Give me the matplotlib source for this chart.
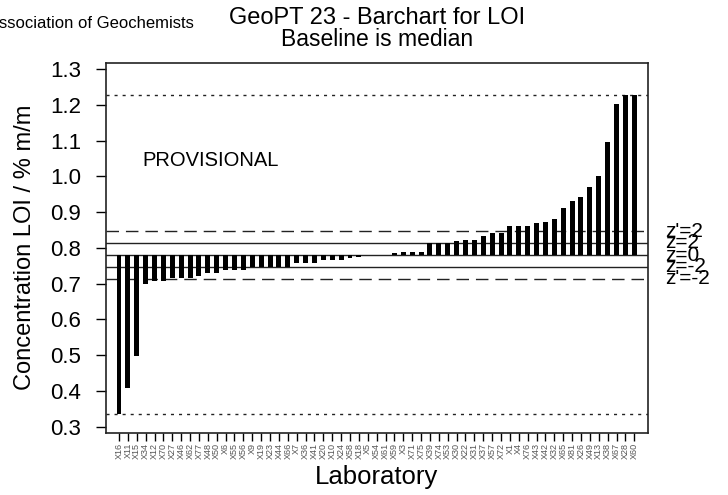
import numpy as np
import matplotlib
matplotlib.use('Agg')
import matplotlib.pyplot as plt
from matplotlib.transforms import blended_transform_factory

plt.rcParams['font.family'] = ['Liberation Sans', 'DejaVu Sans']

labs = ['X16', 'X11', 'X15', 'X34', 'X12', 'X70', 'X27', 'X46', 'X62', 'X77',
        'X48', 'X50', 'X6', 'X55', 'X56', 'X9', 'X19', 'X23', 'X44', 'X66',
        'X7', 'X36', 'X41', 'X20', 'X10', 'X24', 'X58', 'X18', 'X5', 'X54',
        'X61', 'X59', 'X3', 'X71', 'X75', 'X39', 'X74', 'X53', 'X30', 'X22',
        'X31', 'X37', 'X57', 'X72', 'X1', 'X4', 'X76', 'X43', 'X42', 'X32',
        'X65', 'X81', 'X26', 'X49', 'X13', 'X38', 'X67', 'X28', 'X60']

loi = [0.335, 0.409, 0.499, 0.699, 0.707, 0.707, 0.717, 0.717, 0.716, 0.720,
       0.730, 0.730, 0.739, 0.739, 0.739, 0.747, 0.747, 0.747, 0.747, 0.747,
       0.758, 0.758, 0.758, 0.766, 0.766, 0.766, 0.772, 0.775, 0.780, 0.780,
       0.780, 0.787, 0.789, 0.789, 0.789, 0.814, 0.814, 0.814, 0.818, 0.822,
       0.822, 0.832, 0.842, 0.842, 0.862, 0.862, 0.862, 0.869, 0.871, 0.881,
       0.911, 0.930, 0.941, 0.971, 1.001, 1.096, 1.202, 1.227, 1.227]

median = 0.780
z_levels = [0.846, 0.814, 0.780, 0.747, 0.714]
z_labels = ["z'=2", "z=2", "z=0", "z=-2", "z'=-2"]
z_styles = ['dashed', 'solid', 'solid', 'solid', 'dashed']
range_levels = [1.227, 0.335]

yticks = [0.3, 0.4, 0.5, 0.6, 0.7, 0.8, 0.9, 1.0, 1.1, 1.2, 1.3]

W, H = 728, 495
fig = plt.figure(figsize=(W / 100, H / 100), dpi=100)
ax = fig.add_axes([106 / W, 1 - 432.7 / H, (647.7 - 106) / W, (432.7 - 62.7) / H])

x = np.arange(len(loi))
vals = np.array(loi)
ax.bar(x, vals - median, bottom=median, width=0.56, color='black', zorder=3)

for lev, st in zip(z_levels, z_styles):
    ls = (0, (9, 5)) if st == 'dashed' else '-'
    ax.axhline(lev, color='#222222', lw=1.0, linestyle=ls, zorder=2)
for lev in range_levels:
    ax.axhline(lev, color='#222222', lw=1.0, linestyle=(0, (2.2, 3.6)), zorder=2)

ax.set_xlim(-1.463, 59.51)
ax.set_ylim(0.2833, 1.3176)

ax.set_yticks(yticks)
ax.set_yticklabels([f'{t:.1f}' for t in yticks], fontsize=16)
ax.tick_params(axis='y', length=7, width=1, pad=11)

ax.set_xticks(x)
ax.set_xticklabels(labs, rotation=90, fontsize=6.5, color='#555555')
ax.tick_params(axis='x', length=5.8, width=1, pad=1.5)

for sp in ax.spines.values():
    sp.set_linewidth(1.2)
    sp.set_color('#222222')

ax.text(0.068, 0.735, 'PROVISIONAL', transform=ax.transAxes, fontsize=14.5,
        ha='left', va='center')

side = blended_transform_factory(fig.transFigure, ax.transData)
for lev, lab in zip(z_levels, z_labels):
    ax.text(665 / W, lev, lab, transform=side, fontsize=15,
            ha='left', va='center')

ax.set_ylabel('Concentration LOI / % m/m', fontsize=17, labelpad=10)
ax.set_xlabel('Laboratory', fontsize=18.5, labelpad=4)

fig.text(377 / W, 1 - 18 / H, 'GeoPT 23 - Barchart for LOI', fontsize=17,
         ha='center', va='center')
fig.text(377 / W, 1 - 40 / H, 'Baseline is median', fontsize=16.5,
         ha='center', va='center')
fig.text(194 / W, 1 - 24 / H, 'International Association of Geochemists',
         fontsize=12, ha='right', va='center')

fig.savefig('out.png', dpi=100)
